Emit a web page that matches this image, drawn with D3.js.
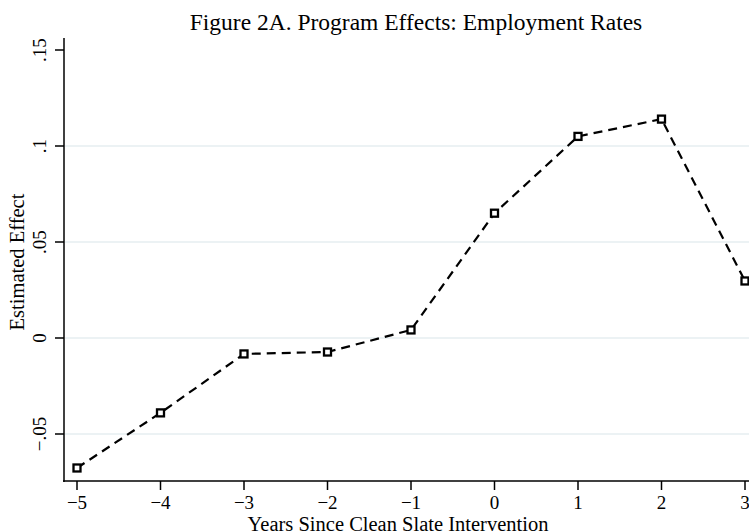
<!DOCTYPE html>
<html><head><meta charset="utf-8">
<script src="https://cdn.jsdelivr.net/npm/d3@7"></script>
<style>body{margin:0;background:#fff}svg{display:block}</style>
</head><body>
<svg id="c" width="749" height="532"></svg>
<script>
const years = [-5,-4,-3,-2,-1,0,1,2,3];
const effects = [-0.0677,-0.0390,-0.0083,-0.0073,0.0042,0.0650,0.1050,0.1140,0.0297];
const yTicks = [-0.05,0,0.05,0.1,0.15];
const yTickLabels = ["\u2212.05","0",".05",".1",".15"];
const xTicks = [-5,-4,-3,-2,-1,0,1,2,3];
const xTickLabels = ["\u22125","\u22124","\u22123","\u22122","\u22121","0","1","2","3"];
const gridVals = [-0.05,0,0.05,0.1];

const svg = d3.select("#c");
const font = "'Liberation Serif','Times New Roman',serif";
const x = d3.scaleLinear().domain([-5,3]).range([77,745]);
const y = d3.scaleLinear().domain([-0.05,0.15]).range([434,50]);

svg.selectAll("line.grid").data(gridVals).enter().append("line")
  .attr("x1",65).attr("x2",749).attr("y1",d=>y(d)).attr("y2",d=>y(d))
  .attr("stroke","#e6eef1").attr("stroke-width",1.5);

svg.append("line").attr("x1",64).attr("x2",64).attr("y1",38).attr("y2",482).attr("stroke","#000").attr("stroke-width",1.5);
svg.append("line").attr("x1",63).attr("x2",749).attr("y1",481).attr("y2",481).attr("stroke","#000").attr("stroke-width",1.5);

const yt = svg.selectAll("g.yt").data(yTicks).enter().append("g").attr("transform",d=>`translate(0,${y(d)})`);
yt.append("line").attr("x1",55).attr("x2",64).attr("stroke","#000").attr("stroke-width",1.5);
yt.append("text").attr("transform","translate(46,0) rotate(-90)").attr("text-anchor","middle")
  .attr("font-family",font).attr("font-size",19).text((d,i)=>yTickLabels[i]);

const xt = svg.selectAll("g.xt").data(xTicks).enter().append("g").attr("transform",d=>`translate(${x(d)},0)`);
xt.append("line").attr("y1",481).attr("y2",490).attr("stroke","#000").attr("stroke-width",1.5);
xt.append("text").attr("y",509).attr("text-anchor","middle")
  .attr("font-family",font).attr("font-size",19).text((d,i)=>xTickLabels[i]);

svg.append("text").attr("x",416).attr("y",30).attr("text-anchor","middle")
  .attr("font-family",font).attr("font-size",23.5).text("Figure 2A. Program Effects: Employment Rates");
svg.append("text").attr("x",398).attr("y",531).attr("text-anchor","middle")
  .attr("font-family",font).attr("font-size",20.5).text("Years Since Clean Slate Intervention");
svg.append("text").attr("transform","translate(24,262) rotate(-90)").attr("text-anchor","middle")
  .attr("font-family",font).attr("font-size",20.5).text("Estimated Effect");

const pts = years.map((d,i)=>[d,effects[i]]);
svg.append("path").attr("d",d3.line().x(d=>x(d[0])).y(d=>y(d[1]))(pts))
  .attr("fill","none").attr("stroke","#000").attr("stroke-width",2.2).attr("stroke-dasharray","9,6");
svg.selectAll("rect.m").data(pts).enter().append("rect")
  .attr("x",d=>x(d[0])-3.5).attr("y",d=>y(d[1])-3.5).attr("width",7).attr("height",7)
  .attr("fill","#fff").attr("stroke","#000").attr("stroke-width",2.3);
</script>
</body></html>
